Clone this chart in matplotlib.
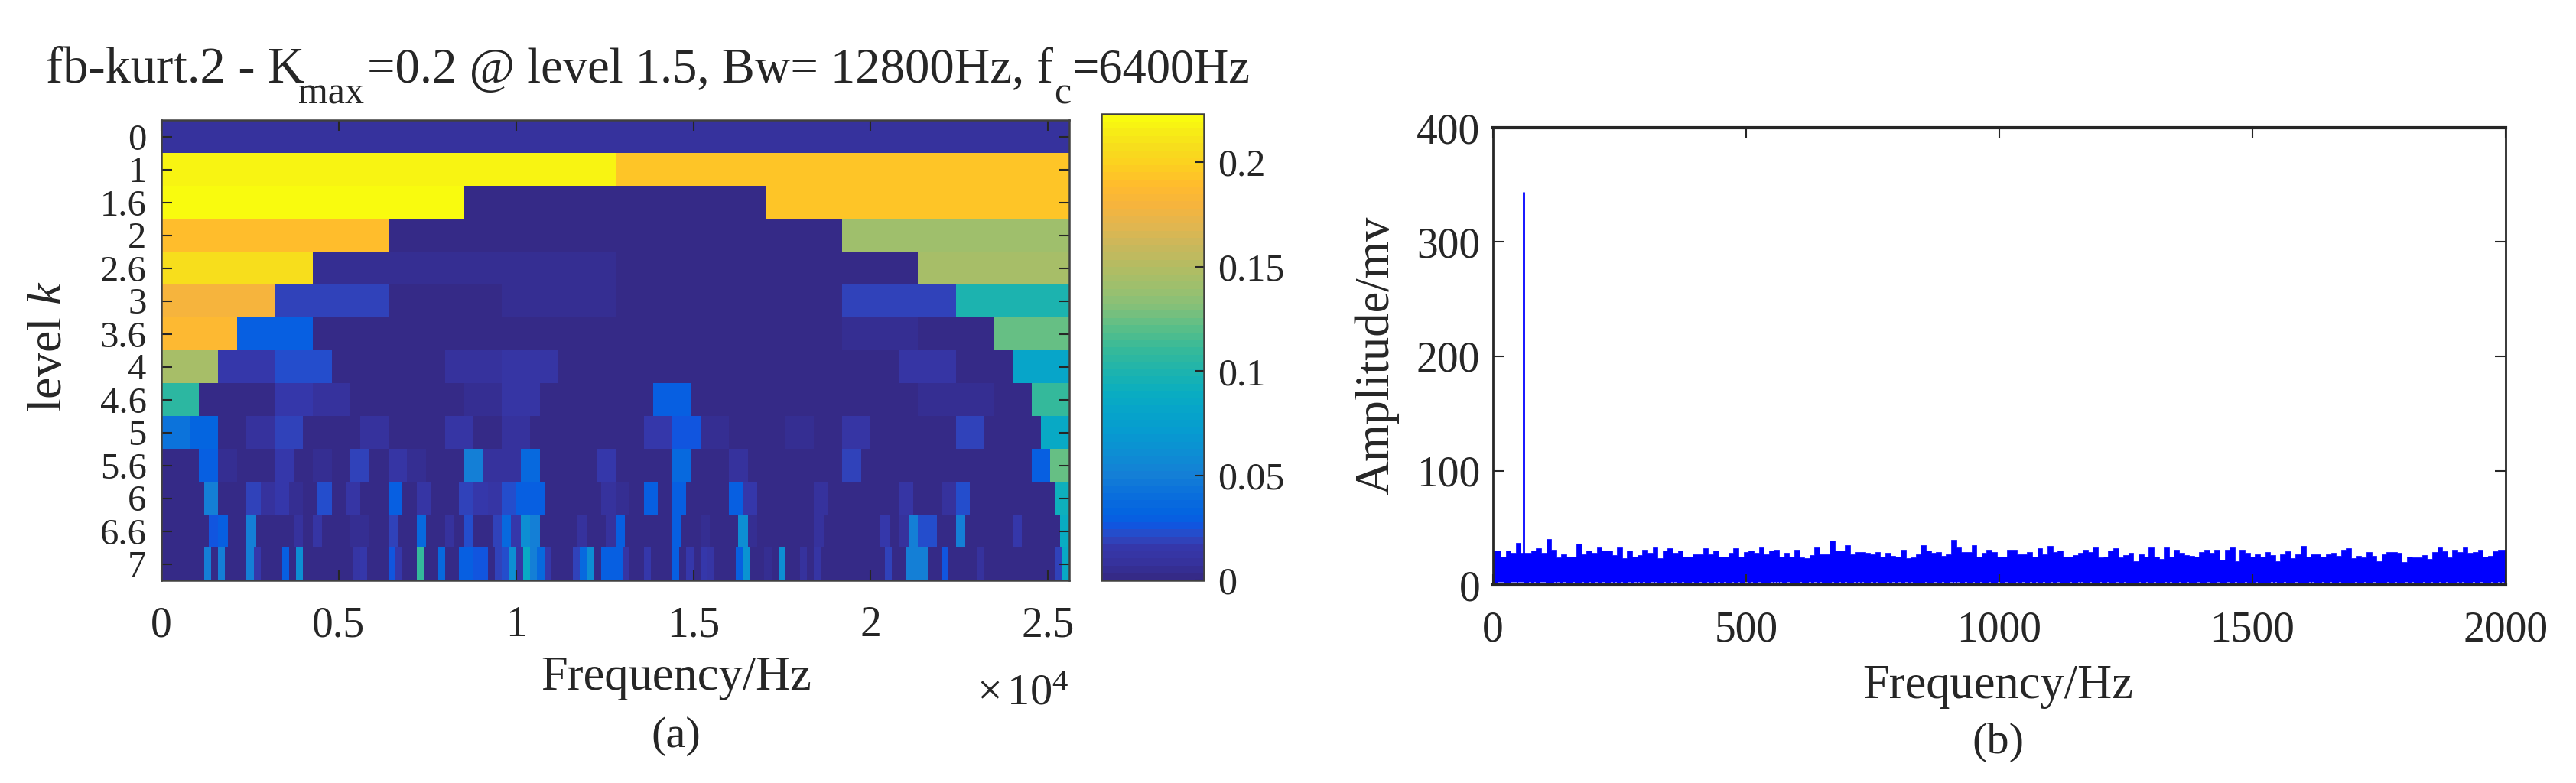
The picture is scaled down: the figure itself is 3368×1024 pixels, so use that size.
import numpy as np
import matplotlib
matplotlib.use("Agg")
import matplotlib.pyplot as plt
from matplotlib.colors import LinearSegmentedColormap

plt.rcParams['font.family'] = ['Liberation Serif', 'DejaVu Serif']
plt.rcParams['mathtext.fontset'] = 'custom'
plt.rcParams['mathtext.rm'] = 'Liberation Serif'
plt.rcParams['mathtext.it'] = 'Liberation Serif:italic'

W = 3368
H = 1024

# kurtogram levels and the number of bands in each one
level_labels = ['0', '1', '1.6', '2', '2.6', '3', '3.6', '4', '4.6', '5', '5.6', '6', '6.6', '7']
level_bands = [1, 2, 3, 4, 6, 8, 12, 16, 24, 32, 48, 64, 96, 128]
kurt_floor = 0.001
fmax = 25600

level_0 = [0.008]
level_1 = [0.217, 0.193]
level_1_6 = [0.223, 0.001, 0.193]
level_2 = [0.190, 0.001, 0.001, 0.140]
level_2_6 = [0.207, 0.005, 0.004, 0.001, 0.001, 0.145]
level_3 = [0.178, 0.020, 0.001, 0.004, 0.001, 0.001, 0.020, 0.098]
level_3_6 = [0.185, 0.030, 0.001, 0.001, 0.001, 0.001, 0.001, 0.001, 0.001, 0.005, 0.001, 0.125]

# fine levels: band number -> value, the other bands sit at kurt_floor
level_4 = {0: 0.145, 1: 0.017, 2: 0.022, 5: 0.008, 6: 0.013, 13: 0.013, 15: 0.082}
level_4_6 = {0: 0.107, 3: 0.015, 4: 0.010, 8: 0.004, 9: 0.013, 13: 0.030, 20: 0.006, 21: 0.006, 23: 0.110}
level_5 = {0: 0.043, 1: 0.032, 3: 0.010, 4: 0.020, 7: 0.008, 10: 0.012, 12: 0.010, 17: 0.015,
           18: 0.025, 19: 0.004, 22: 0.004, 24: 0.012, 28: 0.020, 31: 0.085}
level_5_6 = {2: 0.030, 3: 0.004, 6: 0.017, 8: 0.005, 10: 0.020, 12: 0.012, 13: 0.005, 16: 0.050,
             17: 0.008, 18: 0.008, 19: 0.035, 23: 0.015, 27: 0.035, 30: 0.010, 36: 0.020,
             46: 0.030, 47: 0.122}
level_6 = {3: 0.050, 6: 0.020, 7: 0.010, 8: 0.015, 9: 0.006, 11: 0.022, 13: 0.012, 16: 0.030,
           18: 0.013, 21: 0.018, 22: 0.015, 23: 0.012, 24: 0.022, 25: 0.030, 26: 0.030,
           31: 0.008, 32: 0.006, 34: 0.030, 36: 0.030, 40: 0.030, 41: 0.017, 46: 0.010,
           52: 0.012, 55: 0.010, 56: 0.022, 63: 0.092}
level_6_6 = {5: 0.025, 6: 0.030, 9: 0.050, 12: 0.003, 14: 0.010, 16: 0.012, 20: 0.006, 21: 0.006,
             24: 0.020, 27: 0.035, 30: 0.010, 32: 0.022, 35: 0.020, 36: 0.035, 37: 0.017,
             38: 0.060, 39: 0.050, 44: 0.008, 47: 0.010, 48: 0.030, 54: 0.030, 57: 0.006,
             61: 0.060, 62: 0.006, 69: 0.010, 76: 0.015, 78: 0.008, 79: 0.050, 80: 0.022,
             81: 0.022, 84: 0.050, 90: 0.017, 95: 0.090}
level_7 = {6: 0.050, 8: 0.050, 12: 0.050, 13: 0.015, 17: 0.030, 19: 0.060, 22: 0.003, 23: 0.003,
           27: 0.013, 28: 0.015, 32: 0.027, 33: 0.017, 36: 0.110, 39: 0.035, 42: 0.030,
           43: 0.031, 44: 0.025, 45: 0.025, 47: 0.020, 48: 0.022, 49: 0.060, 50: 0.012,
           51: 0.085, 52: 0.050, 53: 0.035, 54: 0.015, 58: 0.020, 59: 0.035, 60: 0.060,
           62: 0.030, 63: 0.030, 64: 0.030, 65: 0.013, 68: 0.017, 72: 0.030, 74: 0.017,
           76: 0.015, 77: 0.012, 81: 0.030, 82: 0.065, 85: 0.006, 87: 0.060, 90: 0.008,
           92: 0.012, 102: 0.020, 105: 0.050, 106: 0.050, 107: 0.050, 110: 0.025,
           115: 0.008, 126: 0.020, 127: 0.085}

kurt_rows = [level_0, level_1, level_1_6, level_2, level_2_6, level_3, level_3_6,
             level_4, level_4_6, level_5, level_5_6, level_6, level_6_6, level_7]

# colorbar colours read against its ticks
cbar_max = 0.223
cbar_values = [0, 0.008, 0.015, 0.02, 0.025, 0.03, 0.04, 0.05, 0.07, 0.08, 0.09, 0.10, 0.11,
               0.12, 0.13, 0.14, 0.15, 0.16, 0.17, 0.18, 0.19, 0.20, 0.21, 0.223]
cbar_colors = ['#352a87', '#3633a0', '#3538ab', '#2b4ac6', '#1056e0', '#0363e1', '#0a6fdc',
               '#1480d6', '#069bd0', '#06a4ca', '#0aaec0', '#1eb4ad', '#35b99a', '#55be8a',
               '#80c07a', '#9cc06e', '#b2bc62', '#c8b85c', '#e0b650', '#f5b43e', '#ffbb2e',
               '#fdd020', '#f6e01c', '#f9fb0e']
cbar_ticks = [0, 0.05, 0.1, 0.15, 0.2]
cbar_labels = ['0', '0.05', '0.1', '0.15', '0.2']

kurt_xticks = [0, 5000, 10000, 15000, 20000, 25000]
kurt_xlabels = ['0', '0.5', '1', '1.5', '2', '2.5']

# spectrum: top of the noise band, one reading every 10 Hz from 0 to 2000 Hz
spec_band_a = [30, 30, 24.5, 30, 28, 37, 28, 28, 30, 32, 28, 40, 31, 24, 27, 25, 25, 36, 27, 30,
               28, 33, 30, 30, 26, 33, 23.5, 30, 24.5, 26, 31, 28, 33, 23.5, 30, 32, 28, 30, 25,
               24.5, 27, 27, 32, 27, 30, 24.5, 25, 28, 32, 25, 29]
spec_band_b = [30, 28, 33, 27, 30, 31, 24.5, 28, 24.5, 30.5, 24, 23.5, 26, 33, 27, 27, 38.5, 30,
               30, 35, 27, 29, 29, 28, 27, 29, 24.5, 28, 25.5, 24.5, 30.5, 23.5, 24, 27, 34.5,
               30, 28, 29, 25.5, 27, 39.5, 33, 29, 28.5, 34.5, 24.5, 28, 31, 29, 24.5]
spec_band_c = [25, 31, 31, 27, 27, 29, 25, 32, 27, 34, 28.5, 30, 25, 24.5, 26, 28, 30.5, 29, 33,
               24, 24.5, 30, 32, 24, 26, 28, 21, 27, 25, 33, 25, 23, 33, 25, 31, 28, 26, 25.5,
               25, 28.5, 31, 28, 30.5, 22, 30.5, 33, 21, 30.5, 28, 24.5]
spec_band_d = [27, 25, 28.5, 26, 21, 27, 29.5, 23.5, 27, 34, 25, 27, 27, 25, 27, 28, 25.5, 30.5,
               32, 23.5, 25.5, 24, 28.5, 25.5, 21, 27, 28.5, 28.5, 28, 20, 24.5, 24, 24, 26, 23,
               28.5, 33, 29.5, 24, 31, 28.5, 33, 28, 28.5, 30.5, 25, 25.5, 29.5, 30.5, 31]
spike_freq = 60
spike_amp = 344

# frequencies where white shows through just above the baseline
gap_a = [12, 18, 38, 44, 52, 58, 72, 82, 95, 101, 122, 128, 140, 158, 176, 191, 204, 218, 234, 242,
         254, 269, 281, 287, 297, 314, 321, 339, 354, 360, 375, 395, 410, 425, 438, 445, 457, 473, 485, 500]
gap_b = [510, 525, 550, 556, 562, 568, 583, 608, 626, 636, 646, 671, 684, 696, 714, 722, 730, 747, 759,
         780, 790, 802, 815, 827, 855, 873, 888, 905, 912, 918, 933, 948, 963, 981, 998]
gap_c = [1014, 1034, 1047, 1062, 1074, 1087, 1102, 1117, 1140, 1157, 1163, 1180, 1200, 1215, 1233, 1248,
         1276, 1291, 1306, 1328, 1339, 1356, 1372, 1392, 1412, 1432, 1452, 1467, 1487, 1507]
gap_d = [1538, 1546, 1563, 1586, 1613, 1619, 1639, 1654, 1672, 1704, 1722, 1740, 1767, 1782, 1804, 1816,
         1838, 1853, 1870, 1883, 1905, 1916, 1936, 1951, 1973, 1987, 1994]

spec_xticks = [0, 500, 1000, 1500, 2000]
spec_yticks = [0, 100, 200, 300, 400]

# title pieces, the subscripts are larger and lower than mathtext would set them
title_parts = ['fb-kurt.2 - K', 'max', '=0.2 @ level 1.5, Bw= 12800Hz, f', 'c', '=6400Hz']
title_x = [60, 390, 480, 1378, 1402]
title_y = [108, 135, 108, 135, 108]
title_size = [48, 36, 46.5, 36, 45]


def axes_px(left, top, right, bottom):
    return [left / W, 1 - bottom / H, (right - left) / W, (bottom - top) / H]


def put_text(x, y, s, **kw):
    fig.text(x / W, 1 - y / H, s, ha='center', va='center', color='#262626', **kw)


fig = plt.figure(figsize=(W / 100, H / 100), dpi=100)

cmap = LinearSegmentedColormap.from_list('parula_like', list(zip(np.array(cbar_values) / cbar_max, cbar_colors)), N=64)

# (a) kurtogram
ax = fig.add_axes(axes_px(211, 157, 1398, 759))
for i in range(len(kurt_rows)):
    n = level_bands[i]
    row = kurt_rows[i]
    if isinstance(row, dict):
        values = [kurt_floor] * n
        for band in row:
            values[band] = row[band]
    else:
        values = row
    edges = np.linspace(0, fmax, n + 1)
    mesh = ax.pcolormesh(edges, [i, i + 1], np.array([values]), cmap=cmap, vmin=0, vmax=cbar_max)

ax.set_xlim(0, fmax)
ax.set_ylim(len(level_labels), 0)
ax.set_xticks(kurt_xticks)
ax.set_xticklabels(kurt_xlabels, fontsize=40)
ax.set_yticks(np.arange(len(level_labels)) + 0.5)
ax.set_yticklabels(level_labels, fontsize=35)
ax.tick_params(axis='x', direction='in', length=10, width=1.5, top=True, pad=24, color='#262626', labelcolor='#262626')
ax.tick_params(axis='y', direction='in', length=10, width=1.5, right=True, pad=14, color='#262626', labelcolor='#262626')
for s in ax.spines.values():
    s.set_linewidth(1.8)
    s.set_color('#404040')

# colorbar
cax = fig.add_axes(axes_px(1440, 149, 1574, 759))
cb = fig.colorbar(mesh, cax=cax)
cb.set_ticks(cbar_ticks)
cb.set_ticklabels(cbar_labels)
cax.tick_params(direction='in', length=8, width=1.5, labelsize=36, pad=13, color='#262626', labelcolor='#262626')
cb.outline.set_linewidth(1.8)
cb.outline.set_edgecolor('#404040')

for i in range(len(title_parts)):
    fig.text(title_x[i] / W, 1 - title_y[i] / H, title_parts[i], ha='left', va='baseline',
             fontsize=title_size[i], color='#262626')
put_text(65, 453, 'level $\\mathit{k}$', fontsize=46, rotation=90)
put_text(884, 887, 'Frequency/Hz', fontsize=45)
put_text(1337, 907, '$\\times\\,$10$^{4}$', fontsize=42)
put_text(884, 963, '(a)', fontsize=42)

# (b) spectrum
spec_peak = np.array(spec_band_a + spec_band_b + spec_band_c + spec_band_d)
spec_freq = np.arange(len(spec_peak)) * 10
gaps = gap_a + gap_b + gap_c + gap_d

ax2 = fig.add_axes(axes_px(1952, 167, 3276, 765))
ax2.fill_between(spec_freq, 0, spec_peak, step='mid', color='#0000ff', linewidth=0.5)
ax2.vlines(spike_freq, 0, spike_amp, color='#0000ff', linewidth=2)
ax2.vlines(gaps, 1, 2.6, color='white', linewidth=2.2)
ax2.set_xlim(0, 2000)
ax2.set_ylim(0, 400)
ax2.set_xticks(spec_xticks)
ax2.set_yticks(spec_yticks)
ax2.tick_params(labelsize=40, direction='in', length=10, width=1.5, top=True, right=True, color='#262626', labelcolor='#262626')
ax2.tick_params(axis='x', pad=24)
ax2.tick_params(axis='y', pad=12)
for s in ax2.spines.values():
    s.set_linewidth(2)
    s.set_color('#262626')
ax2.spines['top'].set_linewidth(3)
ax2.spines['bottom'].set_linewidth(3)

put_text(1800, 465, 'Amplitude/mv', fontsize=45, rotation=90)
put_text(2612, 898, 'Frequency/Hz', fontsize=45)
put_text(2612, 971, '(b)', fontsize=42)

fig.savefig('out.png', dpi=100)
